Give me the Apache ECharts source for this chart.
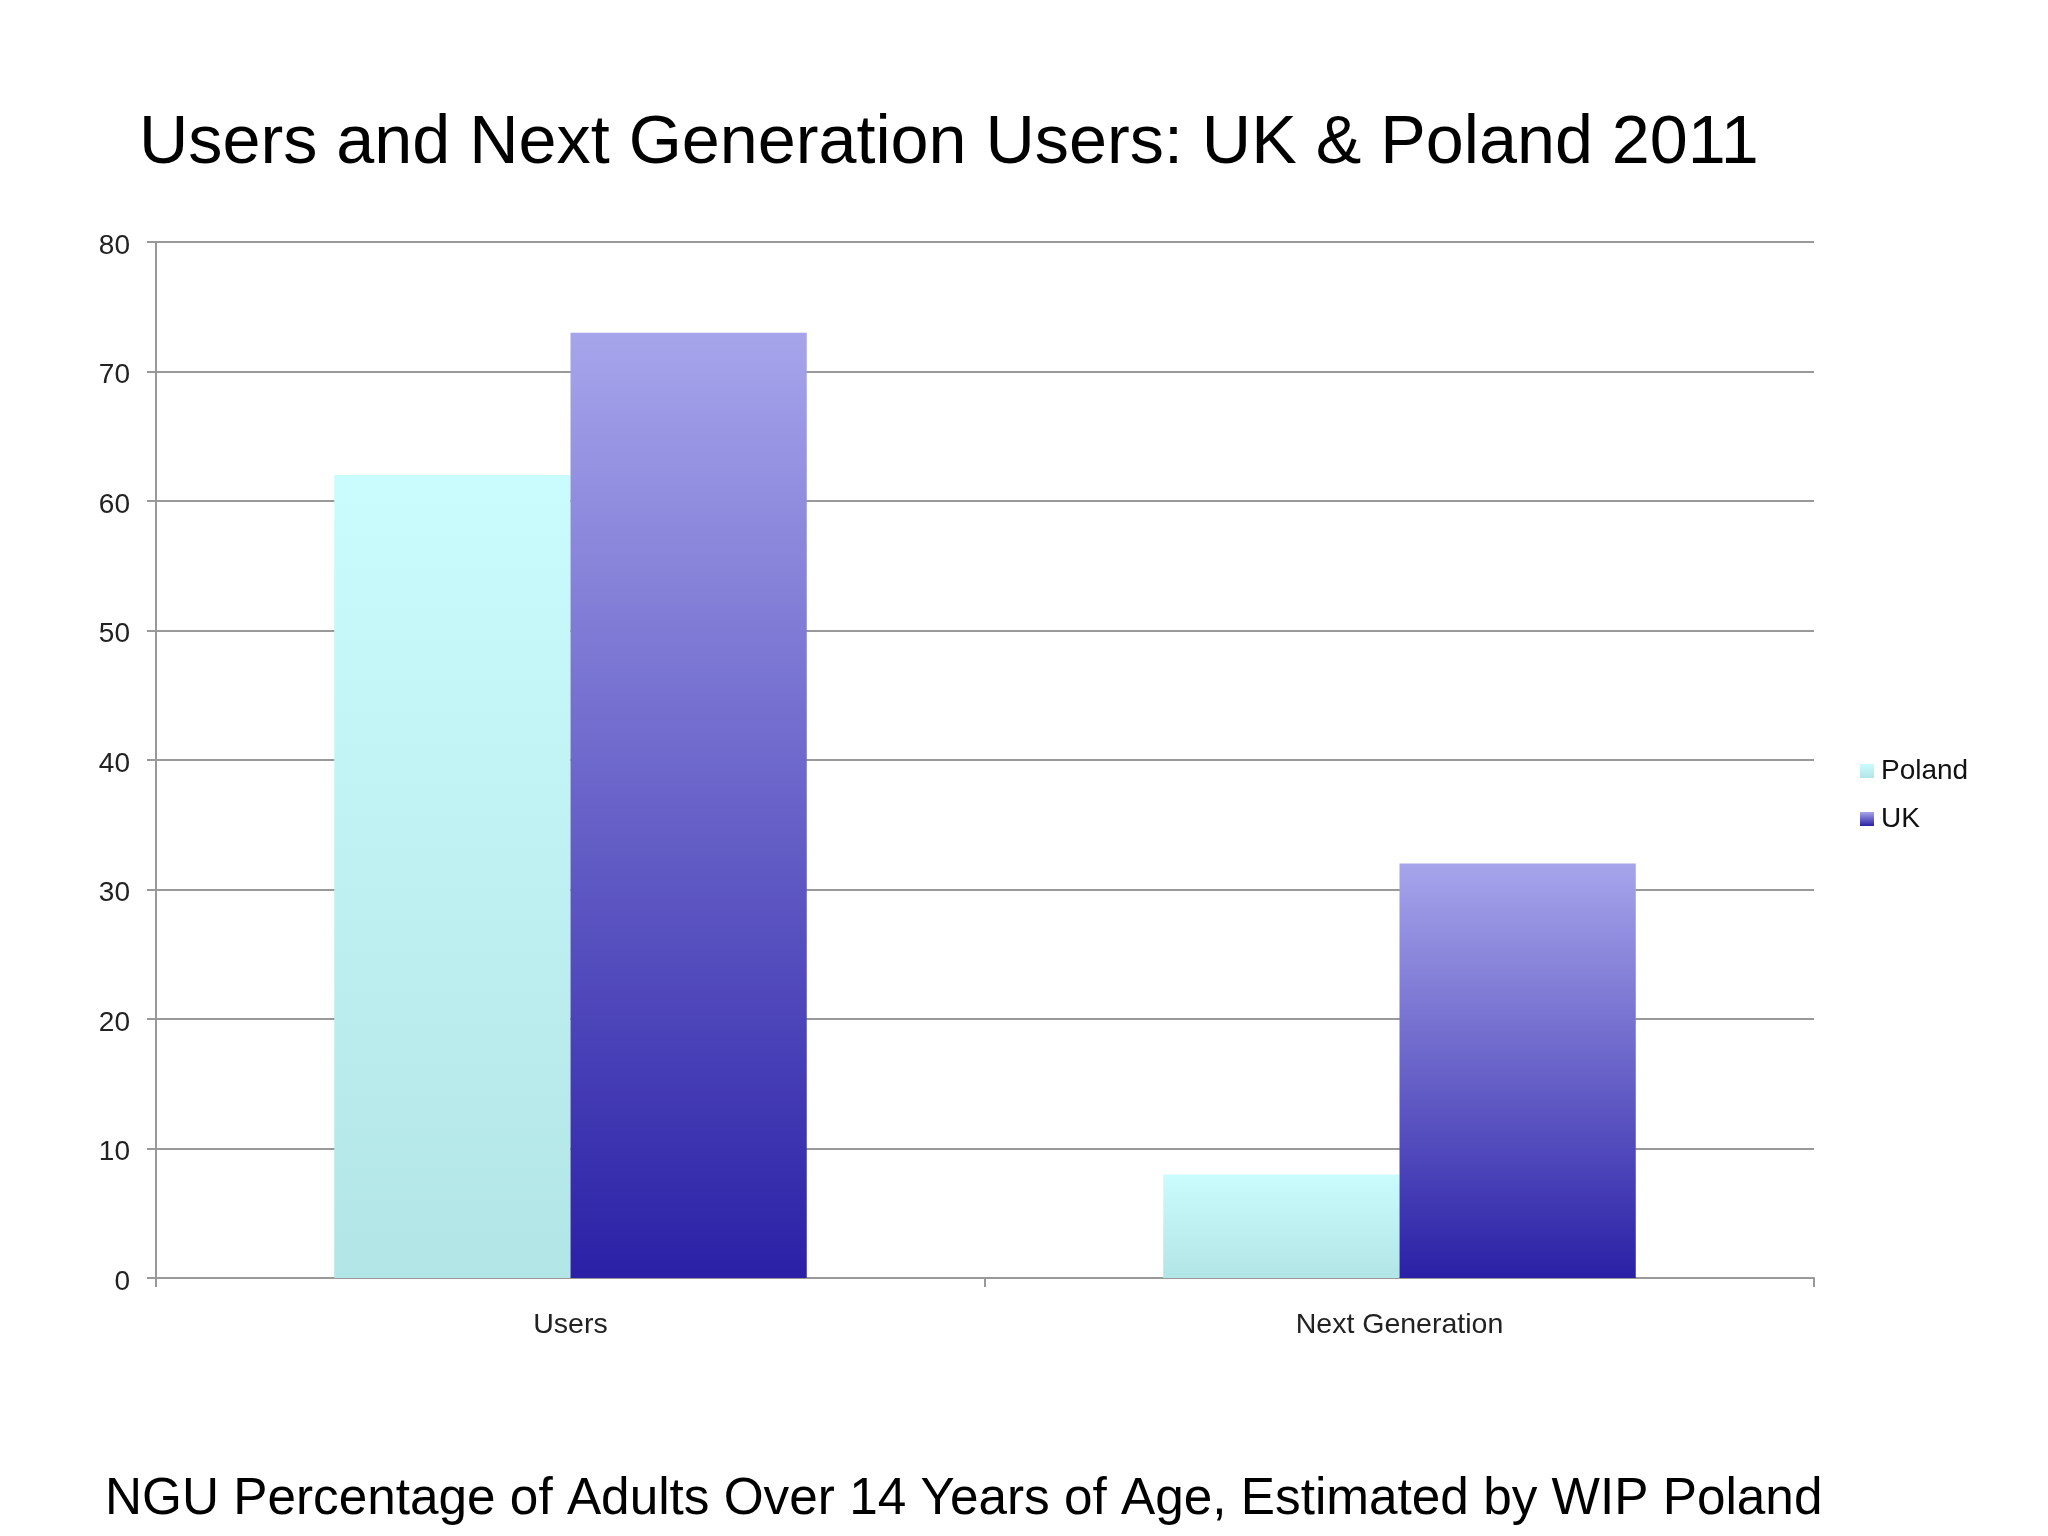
<!DOCTYPE html>
<html>
<head>
<meta charset="utf-8">
<script src="https://cdn.jsdelivr.net/npm/echarts@6/dist/echarts.min.js"></script>
<style>
html,body{margin:0;padding:0;background:#fff;}
#main{width:2048px;height:1536px;}
</style>
</head>
<body>
<div id="main"></div>
<script>
const categories = ['Users', 'Next Generation'];
const polandValues = [62, 8];
const ukValues = [73, 32];
const yTicks = [0, 10, 20, 30, 40, 50, 60, 70, 80];
const seriesNames = ['Poland', 'UK'];
const titleText = 'Users and Next Generation Users: UK & Poland 2011';
const subtitleText = 'NGU Percentage of Adults Over 14 Years of Age, Estimated by WIP Poland';

const chart = echarts.init(document.getElementById('main'));
const font = 'Liberation Sans, Arial, sans-serif';
const grad = (top, bottom) => new echarts.graphic.LinearGradient(0, 0, 0, 1, [
  { offset: 0, color: top }, { offset: 1, color: bottom }
]);

chart.setOption({
  backgroundColor: '#ffffff',
  animation: false,
  title: [
    { text: titleText, left: 134, top: 105,
      textStyle: { fontFamily: font, fontSize: 68.3, fontWeight: 'normal', color: '#000' } },
    { text: subtitleText, left: 100, top: 1469,
      textStyle: { fontFamily: font, fontSize: 51.3, fontWeight: 'normal', color: '#000' } }
  ],
  legend: {
    orient: 'vertical',
    left: 1855, top: 752,
    itemWidth: 14, itemHeight: 14, itemGap: 20,
    icon: 'rect',
    data: seriesNames,
    textStyle: { fontFamily: font, fontSize: 28, color: '#111', padding: [0, 0, 0, 2] }
  },
  grid: { left: 156, right: 234, top: 242, bottom: 258, containLabel: false },
  xAxis: {
    type: 'category',
    data: categories,
    boundaryGap: true,
    axisLine: { lineStyle: { color: '#999', width: 2 } },
    axisTick: { show: true, inside: false, length: 9, lineStyle: { color: '#999', width: 2 } },
    axisLabel: { margin: 33, fontFamily: font, fontSize: 28.5, color: '#222' },
    splitLine: { show: false }
  },
  yAxis: {
    type: 'value',
    min: yTicks[0], max: yTicks[yTicks.length - 1], interval: 10,
    axisLine: { show: true, lineStyle: { color: '#999', width: 2 } },
    axisTick: { show: true, inside: false, length: 9, lineStyle: { color: '#999', width: 2 } },
    axisLabel: { margin: 26, fontFamily: font, fontSize: 28, color: '#222', verticalAlign: 'top', lineHeight: 8 },
    splitLine: { show: true, lineStyle: { color: '#999', width: 2 } }
  },
  series: [
    { name: seriesNames[0], type: 'bar', data: polandValues, barGap: '0%', barCategoryGap: '43%',
      itemStyle: { color: grad('#cbfcfd', '#b2e5e6') } },
    { name: seriesNames[1], type: 'bar', data: ukValues, barGap: '0%', barCategoryGap: '43%',
      itemStyle: { color: grad('#a6a5eb', '#2a20a6') } }
  ]
});
</script>
</body>
</html>
